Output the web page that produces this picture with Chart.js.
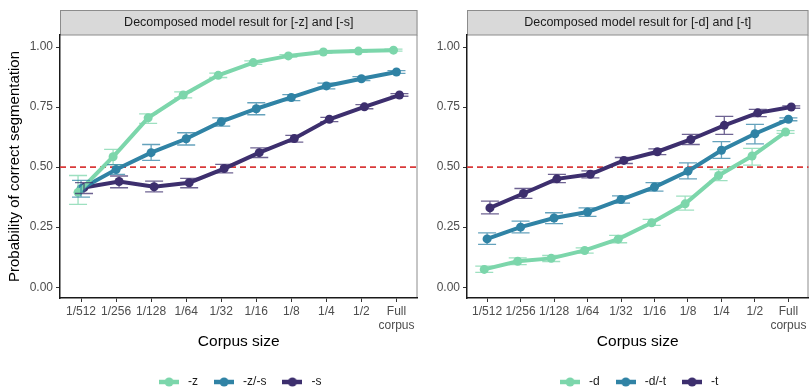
<!DOCTYPE html>
<html>
<head>
<meta charset="utf-8">
<script src="https://cdn.jsdelivr.net/npm/chart.js@4.4.1/dist/chart.umd.min.js"></script>
<style>
  body { margin: 0; background: #fff; overflow: hidden; width: 810px; height: 390px; position: relative; }
  canvas { position: absolute; top: 0; }
  #leftPanel { left: 0; }
  #rightPanel { left: 420px; }
</style>
</head>
<body>
<canvas id="leftPanel" width="422" height="398"></canvas>
<canvas id="rightPanel" width="393" height="398"></canvas>
<script>
// x categories and y ticks
const sizeLabels = ['1/512', '1/256', '1/128', '1/64', '1/32', '1/16', '1/8', '1/4', '1/2', ['Full', 'corpus']];
const yTicks = [0, 0.25, 0.5, 0.75, 1];

// left panel: [-z] and [-s]
const zMean  = [0.395, 0.543, 0.705, 0.800, 0.882, 0.935, 0.963, 0.979, 0.983, 0.987];
const zLow   = [0.345, 0.510, 0.682, 0.788, 0.873, 0.928, 0.958, 0.975, 0.979, 0.983];
const zHigh  = [0.465, 0.574, 0.722, 0.813, 0.891, 0.942, 0.968, 0.983, 0.987, 0.991];
const zsMean = [0.410, 0.490, 0.560, 0.618, 0.689, 0.743, 0.790, 0.838, 0.868, 0.896];
const zsLow  = [0.375, 0.470, 0.528, 0.592, 0.671, 0.718, 0.777, 0.826, 0.860, 0.890];
const zsHigh = [0.445, 0.510, 0.594, 0.643, 0.705, 0.768, 0.802, 0.850, 0.877, 0.902];
const sMean  = [0.415, 0.440, 0.418, 0.435, 0.494, 0.560, 0.619, 0.699, 0.751, 0.800];
const sLow   = [0.390, 0.414, 0.397, 0.414, 0.476, 0.540, 0.604, 0.689, 0.743, 0.795];
const sHigh  = [0.435, 0.463, 0.442, 0.453, 0.511, 0.580, 0.632, 0.707, 0.760, 0.806];

// right panel: [-d] and [-t]
const dMean  = [0.074, 0.108, 0.120, 0.153, 0.200, 0.268, 0.347, 0.465, 0.546, 0.646];
const dLow   = [0.062, 0.094, 0.107, 0.142, 0.185, 0.257, 0.321, 0.444, 0.508, 0.640];
const dHigh  = [0.088, 0.122, 0.132, 0.164, 0.216, 0.282, 0.379, 0.490, 0.578, 0.652];
const dtMean = [0.201, 0.250, 0.288, 0.313, 0.365, 0.417, 0.483, 0.570, 0.639, 0.699];
const dtLow  = [0.178, 0.226, 0.265, 0.295, 0.350, 0.400, 0.451, 0.536, 0.597, 0.693];
const dtHigh = [0.226, 0.275, 0.310, 0.330, 0.380, 0.435, 0.518, 0.606, 0.678, 0.705];
const tMean  = [0.330, 0.390, 0.451, 0.470, 0.528, 0.564, 0.615, 0.674, 0.726, 0.750];
const tLow   = [0.305, 0.370, 0.435, 0.455, 0.515, 0.552, 0.594, 0.636, 0.710, 0.745];
const tHigh  = [0.358, 0.411, 0.470, 0.484, 0.540, 0.576, 0.636, 0.711, 0.740, 0.755];

const colors = { light: '#7cd6ab', mid: '#3083a5', dark: '#3d2f6e' };
const dodge = [-0.085, 0, 0.085];
const FONT = "'Liberation Sans', Arial, sans-serif";

function legendIcon(color) {
    const c = document.createElement('canvas');
    c.width = 20; c.height = 10;
    const ctx = c.getContext('2d');
    ctx.strokeStyle = color;
    ctx.lineWidth = 4.5;
    ctx.beginPath();
    ctx.moveTo(0, 5); ctx.lineTo(20, 5);
    ctx.stroke();
    ctx.fillStyle = color;
    ctx.beginPath();
    ctx.arc(10, 5, 4.5, 0, Math.PI * 2);
    ctx.fill();
    return c;
}

function series(label, mean, low, high, color, k) {
    return {
        label: label,
        data: mean.map((v, i) => ({ x: i + dodge[k], y: v })),
        errLow: low,
        errHigh: high,
        borderColor: color,
        backgroundColor: color,
        borderWidth: 4,
        pointRadius: 4.5,
        pointBorderWidth: 0,
        pointBackgroundColor: color,
        tension: 0
    };
}

// gray strip, panel border and the 0.5 reference line
const panelDecor = {
    id: 'panelDecor',
    beforeDraw(chart) {
        const { ctx, chartArea: a } = chart;
        ctx.save();
        ctx.fillStyle = '#d9d9d9';
        ctx.strokeStyle = '#8c8c8c';
        ctx.lineWidth = 1;
        ctx.fillRect(a.left, 10, a.right - a.left, a.top - 10);
        ctx.strokeRect(a.left + 0.5, 10.5, a.right - a.left - 1, a.top - 10.5);
        ctx.beginPath();
        ctx.moveTo(a.right - 0.5, a.top);
        ctx.lineTo(a.right - 0.5, a.bottom);
        ctx.stroke();
        ctx.restore();
    },
    beforeDatasetsDraw(chart) {
        const { ctx, chartArea: a, scales } = chart;
        const y = scales.y.getPixelForValue(0.5);
        ctx.save();
        ctx.strokeStyle = '#d93a3a';
        ctx.lineWidth = 1.6;
        ctx.setLineDash([6, 4]);
        ctx.beginPath();
        ctx.moveTo(a.left, y);
        ctx.lineTo(a.right, y);
        ctx.stroke();
        ctx.restore();
    }
};

const errorBars = {
    id: 'errorBars',
    afterDatasetsDraw(chart) {
        const { ctx, scales } = chart;
        const half = 9;
        ctx.save();
        ctx.lineWidth = 1.3;
        ctx.globalAlpha = 0.75;
        chart.data.datasets.forEach(ds => {
            ctx.strokeStyle = ds.borderColor;
            ds.data.forEach((p, i) => {
                const x = scales.x.getPixelForValue(p.x);
                const y1 = scales.y.getPixelForValue(ds.errLow[i]);
                const y2 = scales.y.getPixelForValue(ds.errHigh[i]);
                ctx.beginPath();
                ctx.moveTo(x, y1); ctx.lineTo(x, y2);
                ctx.moveTo(x - half, y1); ctx.lineTo(x + half, y1);
                ctx.moveTo(x - half, y2); ctx.lineTo(x + half, y2);
                ctx.stroke();
            });
        });
        ctx.restore();
    }
};

function createPanel(elementId, title, datasets, yAxisWidth, showYTitle) {
    const ctx = document.getElementById(elementId).getContext('2d');
    return new Chart(ctx, {
        type: 'line',
        data: { datasets: datasets },
        plugins: [panelDecor, errorBars],
        options: {
            responsive: false,
            animation: false,
            layout: { padding: { left: 0, right: 2, top: 0, bottom: 0 } },
            plugins: {
                tooltip: { enabled: false },
                title: {
                    display: true,
                    text: title,
                    fullSize: false,
                    color: '#1a1a1a',
                    font: { family: FONT, size: 12.5, weight: 'normal' },
                    padding: { top: 15, bottom: 5 }
                },
                legend: {
                    position: 'bottom',
                    fullSize: false,
                    labels: {
                        usePointStyle: true,
                        pointStyleWidth: 26,
                        padding: 13,
                        color: '#1a1a1a',
                        font: { family: FONT, size: 12 },
                        generateLabels: (chart) => chart.data.datasets.map((ds, i) => ({
                            text: ds.label,
                            pointStyle: legendIcon(ds.borderColor),
                            fillStyle: ds.borderColor,
                            strokeStyle: ds.borderColor,
                            lineWidth: 0,
                            fontColor: '#1a1a1a',
                            datasetIndex: i
                        }))
                    }
                }
            },
            scales: {
                x: {
                    type: 'linear',
                    min: -0.6,
                    max: 9.6,
                    afterBuildTicks: (s) => { s.ticks = sizeLabels.map((_, i) => ({ value: i })); },
                    afterFit: (s) => { s.height = 65; },
                    grid: { display: true, drawOnChartArea: false, drawTicks: true, tickLength: 4, color: '#333' },
                    border: { display: true, color: '#1a1a1a', width: 1.5 },
                    ticks: {
                        color: '#4d4d4d',
                        padding: 2,
                        maxRotation: 0,
                        autoSkip: false,
                        font: { family: FONT, size: 12 },
                        callback: (v) => sizeLabels[v]
                    },
                    title: {
                        display: true,
                        text: 'Corpus size',
                        color: '#000',
                        font: { family: FONT, size: 15.5 },
                        padding: { top: 0, bottom: 12 }
                    }
                },
                y: {
                    min: -0.045,
                    max: 1.05,
                    afterBuildTicks: (s) => { s.ticks = yTicks.map(v => ({ value: v })); },
                    afterFit: (s) => { s.width = yAxisWidth; },
                    grid: { display: true, drawOnChartArea: false, drawTicks: true, tickLength: 4, color: '#333' },
                    border: { display: true, color: '#1a1a1a', width: 1.5 },
                    ticks: {
                        color: '#4d4d4d',
                        padding: 3,
                        font: { family: FONT, size: 12 },
                        callback: (v) => v.toFixed(2)
                    },
                    title: {
                        display: showYTitle,
                        text: 'Probability of correct segmentation',
                        color: '#000',
                        font: { family: FONT, size: 15 },
                        padding: { top: 6, bottom: 0 }
                    }
                }
            }
        }
    });
}

createPanel('leftPanel', 'Decomposed model result for [-z] and [-s]', [
    series('-z', zMean, zLow, zHigh, colors.light, 0),
    series('-z/-s', zsMean, zsLow, zsHigh, colors.mid, 1),
    series('-s', sMean, sLow, sHigh, colors.dark, 2)
], 60, true);

createPanel('rightPanel', 'Decomposed model result for [-d] and [-t]', [
    series('-d', dMean, dLow, dHigh, colors.light, 0),
    series('-d/-t', dtMean, dtLow, dtHigh, colors.mid, 1),
    series('-t', tMean, tLow, tHigh, colors.dark, 2)
], 47, false);
</script>
</body>
</html>
